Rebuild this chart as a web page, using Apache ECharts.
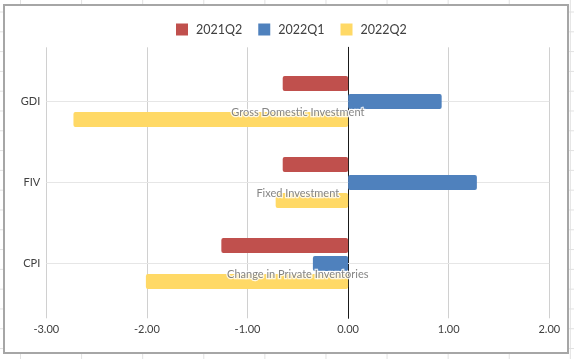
<!DOCTYPE html>
<html>
<head>
<meta charset="utf-8">
<script src="https://cdn.jsdelivr.net/npm/echarts@6/dist/echarts.min.js"></script>
<style>
  html, body { margin: 0; padding: 0; }
  body {
    width: 574px; height: 359px; overflow: hidden; position: relative;
    background-color: #fff;
    background-image: linear-gradient(to right, #e1e1e1 1px, transparent 1px),
                      linear-gradient(to bottom, #e1e1e1 1px, transparent 1px);
    background-size: 61.1px 100%, 100% 19.8px;
    background-position: 20px 0, 0 11.5px;
  }
  #frame { position: absolute; left: 3px; top: 4px; width: 562px; height: 346px;
           border: 2px solid #a6a6a6; background: #fff; }
  #chart { position: absolute; left: 0; top: 0; width: 574px; height: 359px; }
</style>
</head>
<body>
<div id="frame"></div>
<div id="chart"></div>
<script>
const categories = ['GDI', 'FIV', 'CPI'];
const seriesNames = ['2021Q2', '2022Q1', '2022Q2'];
const values2021Q2 = [-0.65, -0.65, -1.26];
const values2022Q1 = [0.93, 1.28, -0.35];
const values2022Q2 = [-2.73, -0.72, -2.01];
const descriptions = ['Gross Domestic Investment', 'Fixed Investment', 'Change in Private Inventories'];
const labelPosition = -0.5;
const xTicks = { min: -3, max: 2, interval: 1 };
const colors = ['#C0504D', '#4F81BD', '#FFD966'];

const chart = echarts.init(document.getElementById('chart'), null, { renderer: 'canvas' });
const font = 'Lato, "Open Sans", sans-serif';

function barSeries(name, data, idx) {
  return {
    name: name, type: 'bar', xAxisIndex: 0, yAxisIndex: 0,
    data: data, barWidth: 15, barGap: '20%',
    itemStyle: { color: colors[idx], borderRadius: 2 },
    z: 2
  };
}

chart.setOption({
  animation: false,
  backgroundColor: 'transparent',
  textStyle: { fontFamily: font },
  legend: {
    data: seriesNames, left: 171, top: 18,
    itemWidth: 12, itemHeight: 12, itemGap: 16,
    icon: 'rect',
    textStyle: { fontSize: 12.5, color: '#404040', fontFamily: font, padding: [0, 0, 0, 3] }
  },
  grid: [
    { left: 46.3, right: 24.7, top: 61, bottom: 55 },
    { left: 46.3, right: 24.7, top: 47.3, bottom: 40.7 }
  ],
  xAxis: [
    { type: 'value', gridIndex: 0, min: xTicks.min, max: xTicks.max, interval: xTicks.interval, show: false },
    { type: 'value', gridIndex: 1, min: xTicks.min, max: xTicks.max, interval: xTicks.interval,
      axisLine: { show: false, onZero: false }, axisTick: { show: false },
      splitLine: { show: true, lineStyle: { color: '#d0d0d0', width: 1 } },
      axisLabel: { margin: 6, fontSize: 11, color: '#404040', fontFamily: font,
                   formatter: v => v.toFixed(2) } }
  ],
  yAxis: [
    { type: 'category', gridIndex: 0, data: categories, inverse: true,
      axisLine: { show: false, onZero: false }, axisTick: { show: false },
      splitLine: { show: false },
      axisLabel: { margin: 6, fontSize: 11, color: '#404040', fontFamily: font } },
    { type: 'value', gridIndex: 1, min: 0, max: 1,
      axisLine: { show: true, onZero: true, lineStyle: { color: '#1a1a1a', width: 1 } },
      axisTick: { show: false }, axisLabel: { show: false }, splitLine: { show: false } }
  ],
  series: [
    barSeries(seriesNames[0], values2021Q2, 0),
    barSeries(seriesNames[1], values2022Q1, 1),
    barSeries(seriesNames[2], values2022Q2, 2),
    {
      type: 'scatter', name: 'labels', xAxisIndex: 0, yAxisIndex: 0,
      data: categories.map((c, i) => [labelPosition, c]),
      symbolSize: 1, itemStyle: { color: 'rgba(0,0,0,0)' }, z: 5, silent: true,
      label: {
        show: true, position: 'inside', offset: [0, 10.5],
        formatter: p => descriptions[p.dataIndex],
        fontSize: 11, color: '#666666', fontFamily: font,
        textBorderColor: '#fff', textBorderWidth: 2.5
      },
      markLine: {
        silent: true, symbol: 'none', z: 1, animation: false,
        label: { show: false },
        lineStyle: { color: '#e6e6e6', type: 'solid', width: 1 },
        data: categories.map(c => ({ yAxis: c }))
      }
    }
  ]
});
</script>
</body>
</html>
